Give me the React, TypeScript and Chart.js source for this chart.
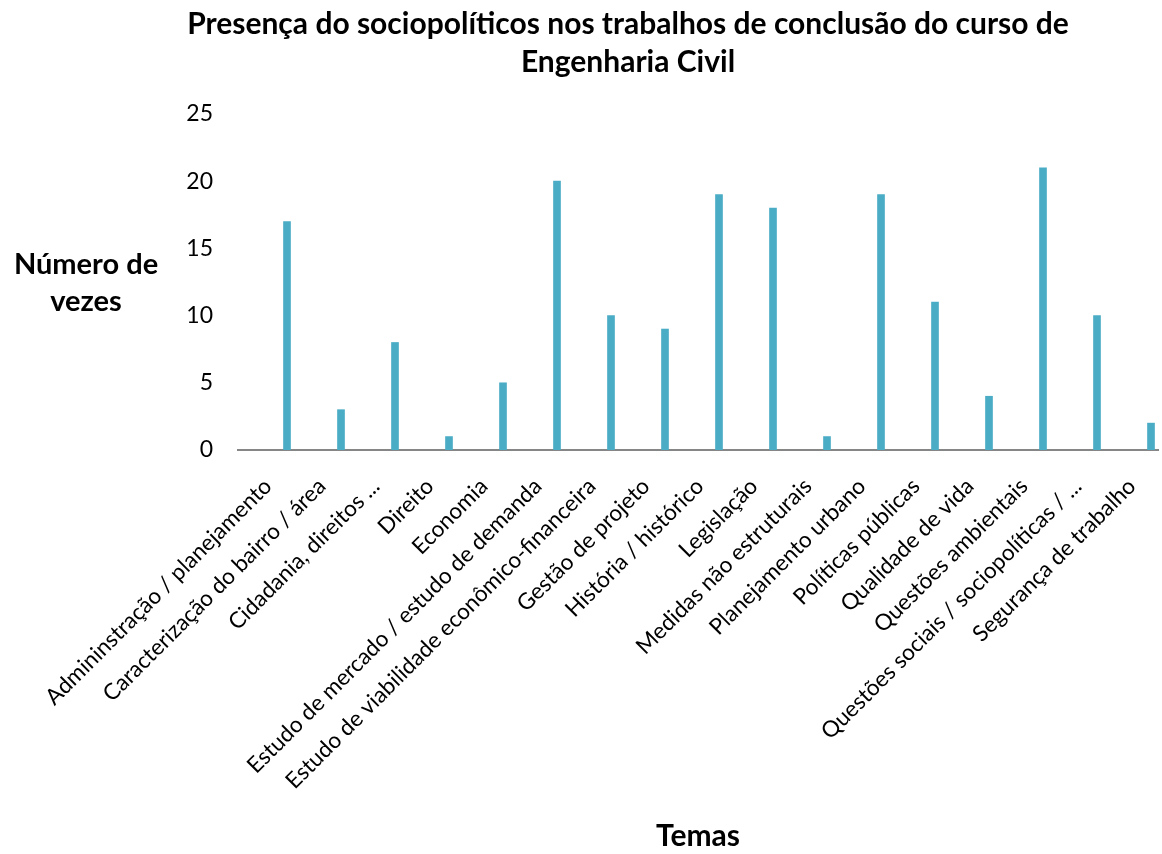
import React, { useEffect, useRef } from "react";
import { Chart, registerables } from "chart.js";

Chart.register(...registerables);

const categories = [
  "Admininstração / planejamento",
  "Caracterização do bairro / área",
  "Cidadania, direitos ...",
  "Direito",
  "Economia",
  "Estudo de mercado / estudo de demanda",
  "Estudo de viabilidade econômico-financeira",
  "Gestão de projeto",
  "História / histórico",
  "Legislação",
  "Medidas não estruturais",
  "Planejamento urbano",
  "Políticas públicas",
  "Qualidade de vida",
  "Questões ambientais",
  "Questões sociais / sociopolíticas / ...",
  "Segurança de trabalho",
];

const values = [17, 3, 8, 1, 5, 20, 10, 9, 19, 18, 1, 19, 11, 4, 21, 10, 2];

const yTickMin = 0;
const yTickMax = 25;
const yTickStep = 5;

const titleLines = [
  "Presença do sociopolíticos nos trabalhos de conclusão do curso de",
  "Engenharia Civil",
];
const yTitleLines = ["Número de", "vezes"];
const xTitle = "Temas";

const FONT = "Lato, 'Open Sans', sans-serif";
const BAR_COLOR = "#4BACC6";
const AXIS_COLOR = "#868686";

const yTitlePlugin = {
  id: "yTitleHorizontal",
  afterDraw(chart: any) {
    const ctx = chart.ctx;
    const area = chart.chartArea;
    ctx.save();
    ctx.font = `bold 29px ${FONT}`;
    ctx.fillStyle = "#000";
    ctx.textAlign = "center";
    ctx.textBaseline = "middle";
    const cx = 86;
    const cy = (area.top + area.bottom) / 2 + 1;
    const lh = 37;
    yTitleLines.forEach((line, i) => {
      ctx.fillText(line, cx, cy - ((yTitleLines.length - 1) * lh) / 2 + i * lh);
    });
    ctx.restore();
  },
};

export default function App() {
  const canvasRef = useRef<HTMLCanvasElement | null>(null);

  useEffect(() => {
    const canvas = canvasRef.current;
    if (!canvas) return;
    const chart = new Chart(canvas, {
      type: "bar",
      data: {
        datasets: [
          {
            data: categories.map((_, i) => ({ x: i, y: values[i] })),
            backgroundColor: BAR_COLOR,
            borderWidth: 0,
            barThickness: 7,
          },
        ],
      },
      options: {
        animation: false,
        responsive: false,
        devicePixelRatio: 1,
        layout: { padding: { left: 98, right: 4, top: 0, bottom: 0 } },
        plugins: {
          legend: { display: false },
          tooltip: { enabled: false },
          title: {
            display: true,
            text: titleLines,
            color: "#000",
            font: { family: FONT, size: 30, weight: "bold", lineHeight: 1.25 },
            padding: { top: 6, bottom: 33 },
          },
        },
        scales: {
          x: {
            type: "linear",
            min: -49 / 54,
            max: 871 / 54,
            offset: false,
            grid: { display: false, drawTicks: false },
            border: { display: true, color: AXIS_COLOR, width: 2 },
            ticks: {
              stepSize: 1,
              includeBounds: false,
              autoSkip: false,
              minRotation: 45,
              maxRotation: 45,
              labelOffset: -19,
              padding: 23,
              color: "#000",
              font: { family: FONT, size: 22.5 },
              callback: (v: any) => (categories[v as number] ?? ""),
            },
            title: {
              display: true,
              text: xTitle,
              color: "#000",
              font: { family: FONT, size: 30, weight: "bold" },
              padding: { top: 0, bottom: 0 },
            },
            afterFit: (s: any) => {
              s.height = 404;
              s.paddingLeft = 0;
              s.paddingRight = 0;
            },
          },
          y: {
            min: yTickMin,
            max: yTickMax,
            grid: { display: false, drawTicks: false },
            border: { display: false },
            ticks: {
              stepSize: yTickStep,
              padding: 25,
              color: "#000",
              font: { family: FONT, size: 23 },
            },
            afterFit: (s: any) => {
              s.width = 140;
              s.paddingTop = 0;
              s.paddingBottom = 0;
            },
          },
        },
      },
      plugins: [yTitlePlugin],
    } as any);
    return () => chart.destroy();
  }, []);

  return (
    <div style={{ position: "fixed", left: 0, top: 0, width: 1162, height: 854, background: "#fff" }}>
      <canvas ref={canvasRef} width={1162} height={854} style={{ display: "block" }} />
    </div>
  );
}
